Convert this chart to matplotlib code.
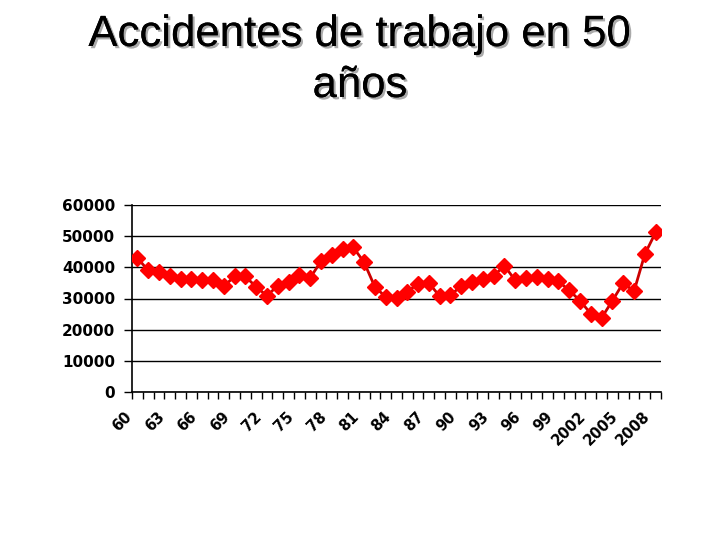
import matplotlib
matplotlib.use("Agg")
import matplotlib.pyplot as plt
import matplotlib.patheffects as pe
import numpy as np

# datos (1960-2008)
years = list(range(1960, 2009))
accidents = [43000, 39000, 38500, 37100, 36400, 36400, 35800, 36000, 33900, 37100,
             37100, 33700, 30900, 34100, 35300, 37400, 36600, 41900, 44000, 45800,
             46400, 41600, 33700, 30500, 30200, 32100, 34800, 35000, 30700, 31200,
             33900, 35300, 36200, 37300, 40500, 35800, 36600, 36800, 36200, 35500,
             32600, 29300, 25100, 23800, 29300, 35000, 32300, 44200, 51200]
tick_labels = ["60", "63", "66", "69", "72", "75", "78", "81", "84", "87",
               "90", "93", "96", "99", "2002", "2005", "2008"]
y_ticks = [0, 10000, 20000, 30000, 40000, 50000, 60000]

fig = plt.figure(figsize=(7.2, 5.4), dpi=100)

# titulo con sombra gris
shadow = [pe.withSimplePatchShadow(offset=(1.6, -1.6), shadow_rgbFace="#aaaaaa", alpha=1.0), pe.Normal()]
fig.text(0.5, 1 - 46 / 540, "Accidentes de trabajo en 50", ha="center", va="baseline",
         fontsize=31.5, family="Liberation Sans", path_effects=shadow)
fig.text(0.5, 1 - 97 / 540, "años", ha="center", va="baseline",
         fontsize=31.5, family="Liberation Sans", path_effects=shadow)

ax = fig.add_axes([132 / 720, 1 - 392 / 540, 529 / 720, 187 / 540])
x = np.arange(len(years))
ax.plot(x, accidents, color="#cc0000", lw=2, marker="D", markersize=8,
        markerfacecolor="red", markeredgecolor="red", zorder=3)

ax.set_xlim(-0.5, len(years) - 0.5)
ax.set_ylim(0, 60000)
ax.set_yticks(y_ticks)
ax.set_yticklabels([str(v) for v in y_ticks], fontsize=11, fontweight="bold")
ax.yaxis.grid(True, color="black", lw=1)
ax.set_axisbelow(True)

# marcas entre categorias, etiquetas cada 3 anos (giradas, a la izquierda como en Excel)
ax.set_xticks(np.arange(-0.5, len(years)), minor=True)
ax.set_xticks([])
ax.tick_params(axis="x", which="minor", length=5, width=1, color="black")
ax.tick_params(axis="y", length=6, width=1, pad=6)
for i, lab in enumerate(tick_labels):
    pos = years.index(1960 + 3 * i)
    ax.annotate(lab, xy=(pos, 0), xycoords=("data", "axes fraction"),
                xytext=(-13, -17), textcoords="offset pixels",
                fontsize=10.5, fontweight="bold", rotation=45,
                ha="right", va="top", rotation_mode="anchor",
                annotation_clip=False)

for side in ["top", "right"]:
    ax.spines[side].set_visible(False)
for side in ["left", "bottom"]:
    ax.spines[side].set_color("black")
    ax.spines[side].set_linewidth(1.2)

fig.savefig("out.png", dpi=100)
